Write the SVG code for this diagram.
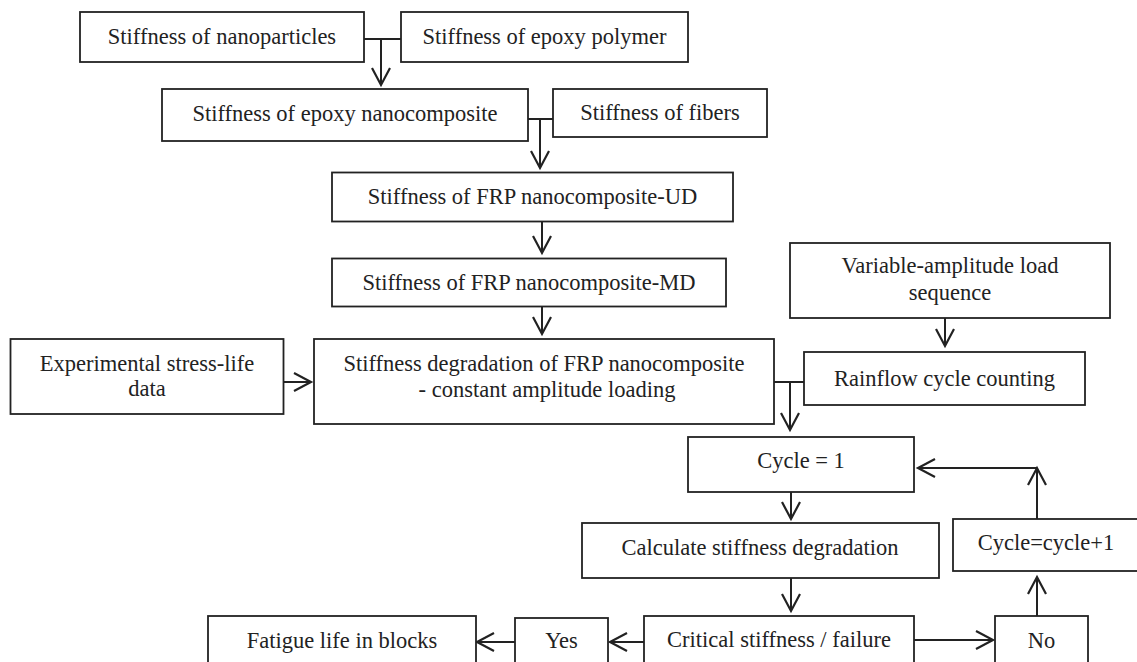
<svg xmlns="http://www.w3.org/2000/svg" width="1137" height="662" viewBox="0 0 1137 662">
<defs>
<marker id="arr" markerUnits="userSpaceOnUse" markerWidth="24" markerHeight="24" viewBox="-20 -12 24 24" refX="0" refY="0" orient="auto">
<path d="M-17,-9 L0,0 L-17,9" fill="none" stroke="#222" stroke-width="2.2" stroke-linejoin="miter"/>
</marker>
<style>
.box{fill:#fff;stroke:#222;stroke-width:1.8}
.t{font-family:"Liberation Serif","Times New Roman",serif;font-size:22.5px;fill:#222;text-anchor:middle}
.c{stroke:#222;stroke-width:2;fill:none}
.a{stroke:#222;stroke-width:2;fill:none;marker-end:url(#arr)}
</style>
</defs>
<rect width="1137" height="662" fill="#fff"/>
<g id="connectors">
<path class="c" d="M364,39 H401"/>
<path class="a" d="M381,39 V85"/>
<path class="c" d="M528,119 H553"/>
<path class="a" d="M540,119 V168"/>
<path class="a" d="M542,222 V253"/>
<path class="a" d="M542,307 V334"/>
<path class="a" d="M283,382 H311"/>
<path class="a" d="M945,318 V346"/>
<path class="c" d="M774,382 H804"/>
<path class="a" d="M790,382 V430"/>
<path class="a" d="M791,492 V519"/>
<path class="a" d="M791,578 V611"/>
<path class="a" d="M644,642 H610"/>
<path class="a" d="M515,642 H477"/>
<path class="a" d="M914,640 H993"/>
<path class="a" d="M1037,616 V577"/>
<path class="a" d="M1037,519 V468"/>
<path class="a" d="M1037,468 H918"/>
</g>
<g id="n1"><rect class="box" x="80" y="12" width="284" height="50"/><text class="t" x="222" y="44">Stiffness of nanoparticles</text></g>
<g id="n2"><rect class="box" x="401" y="12" width="287" height="50"/><text class="t" x="544.5" y="44">Stiffness of epoxy polymer</text></g>
<g id="n3"><rect class="box" x="162" y="89" width="366" height="52"/><text class="t" x="345" y="121">Stiffness of epoxy nanocomposite</text></g>
<g id="n4"><rect class="box" x="553" y="89" width="214" height="48"/><text class="t" x="660" y="120">Stiffness of fibers</text></g>
<g id="n5"><rect class="box" x="332" y="172.5" width="401" height="49"/><text class="t" x="532.5" y="204">Stiffness of FRP nanocomposite-UD</text></g>
<g id="n6"><rect class="box" x="332" y="258.5" width="394" height="48"/><text class="t" x="529" y="290">Stiffness of FRP nanocomposite-MD</text></g>
<g id="n7"><rect class="box" x="314" y="339" width="460" height="85"/><text class="t" x="544" y="371">Stiffness degradation of FRP nanocomposite</text><text class="t" x="547" y="397">- constant amplitude loading</text></g>
<g id="n8"><rect class="box" x="10.5" y="339" width="273" height="75"/><text class="t" x="147" y="370.5">Experimental stress-life</text><text class="t" x="147" y="396">data</text></g>
<g id="n9"><rect class="box" x="790" y="243" width="320" height="75"/><text class="t" x="950" y="273">Variable-amplitude load</text><text class="t" x="950" y="300">sequence</text></g>
<g id="n10"><rect class="box" x="804" y="352" width="281" height="53"/><text class="t" x="944.5" y="386">Rainflow cycle counting</text></g>
<g id="n11"><rect class="box" x="688" y="437" width="226" height="55"/><text class="t" x="801" y="468">Cycle = 1</text></g>
<g id="n12"><rect class="box" x="582" y="523" width="357" height="55"/><text class="t" x="760" y="555">Calculate stiffness degradation</text></g>
<g id="n13"><rect class="box" x="644" y="616" width="270" height="52"/><text class="t" x="779" y="647">Critical stiffness / failure</text></g>
<g id="n14"><rect class="box" x="515" y="618" width="93" height="52"/><text class="t" x="561.5" y="648">Yes</text></g>
<g id="n15"><rect class="box" x="208" y="616" width="268" height="52"/><text class="t" x="342" y="648">Fatigue life in blocks</text></g>
<g id="n16"><rect class="box" x="995" y="616" width="93" height="52"/><text class="t" x="1041.5" y="648">No</text></g>
<g id="n17"><rect class="box" x="953" y="519" width="186" height="52"/><text class="t" x="1046" y="550">Cycle=cycle+1</text></g>
</svg>
